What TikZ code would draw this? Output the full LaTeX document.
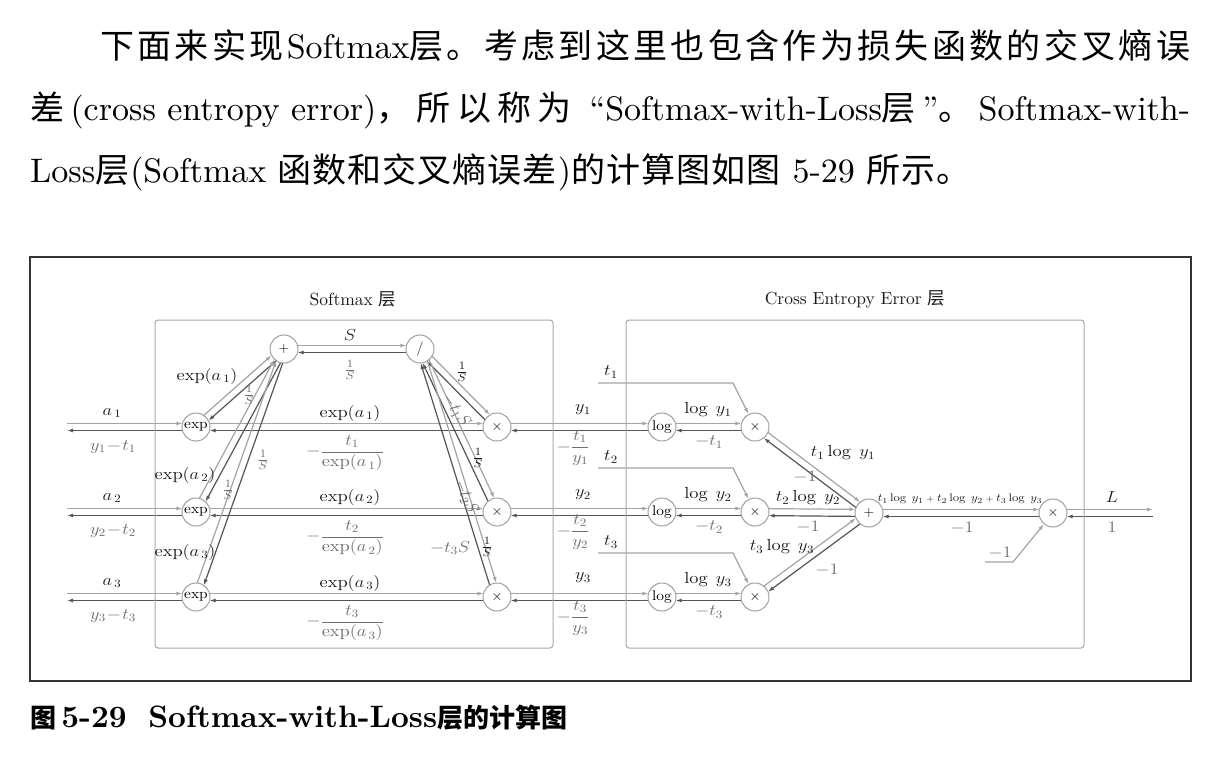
\RequirePackage{fix-cm}
\documentclass[tikz,border=0pt]{standalone}
\usepackage{amsmath}
\usepackage{graphicx}
\usepackage{fontspec}
\setmainfont{lmroman10-regular}[Extension=.otf,BoldFont=lmroman10-bold,ItalicFont=lmroman10-italic]
\newfontfamily\cjk{Noto Sans CJK SC}
\usetikzlibrary{arrows.meta,calc}
\pgfdeclarelayer{bg}
\pgfsetlayers{bg,main}
\definecolor{fwc}{HTML}{A4A4A4}
\definecolor{bwc}{HTML}{555555}
\definecolor{nodec}{HTML}{A0A0A0}
\definecolor{boxc}{HTML}{A8A8A8}
\definecolor{labb}{HTML}{1A1A1A}
\definecolor{labg}{HTML}{6E6E6E}
\definecolor{framec}{HTML}{333333}
\newcommand\cj[1]{{\cjk\cjloop#1\relax}}
\def\cjloop#1{\ifx#1\relax\else #1\hskip0pt plus 1fil\relax\expandafter\cjloop\fi}
\newcommand\edge[4]{\draw[#1,#4] ($(#2)!3.5pt!90:(#3)$) -- ($(#3)!3.5pt!-90:(#2)$);}
\begin{document}
\begin{tikzpicture}[x=1pt,y=-1pt,
  op/.style={circle,draw=nodec,fill=white,line width=1pt,minimum size=28pt,inner sep=0pt,font=\fontsize{14}{14}\selectfont},
  fwd/.style={draw=fwc,line width=1.2pt,-{Latex[length=6pt,width=4pt]}},
  bwd/.style={draw=bwc,line width=1.2pt,-{Latex[length=6pt,width=4pt]}},
  nn/.style={shorten <=13.6pt,shorten >=13.6pt},
  cn/.style={shorten >=13.6pt},
  nc/.style={shorten <=13.6pt},
  lb/.style={text=labb,inner sep=0pt,xscale=1.15,font=\fontsize{16}{19}\selectfont},
  lg/.style={text=labg,inner sep=0pt,xscale=1.15,font=\fontsize{16}{19}\selectfont},
  inp/.style={draw=fwc,line width=1.2pt,-{Latex[length=6pt,width=4pt]}},
  ttl/.style={inner sep=0pt,text=labb,font=\fontsize{17.5}{17.5}\selectfont},
  para/.style={anchor=base west,inner sep=0pt,font=\fontsize{34}{34}\selectfont}]
\useasboundingbox (0,0) rectangle (1226,758);
\begin{pgfonlayer}{bg}
\fill[white] (0,0) rectangle (1226,758);
\end{pgfonlayer}

% paragraph
\node[para] (p1) at (100,58.5)
  {\makebox[1090pt][s]{\cj{下面来实现}Softmax\cj{层。考虑到这里也包含作为损失函数的交叉熵误}\unskip}};
\node[para] (p2) at (30,120.5)
  {\makebox[1160pt][s]{\cj{差}(cross entropy error)\cj{，所以称为} ``Softmax-with-Loss\cj{层}''\cj{。}Softmax-with-}};
\node[para] (p3) at (30,182.5)
  {\makebox[940pt][s]{Loss\cj{层}(Softmax \cj{函数和交叉熵误差})\cj{的计算图如图} 5-29 \cj{所示。}\unskip}};

% caption
\node[anchor=base west,inner sep=0pt,font=\fontsize{31}{31}\selectfont\bfseries] (cap) at (30,727)
  {{\fontsize{26}{26}\selectfont\cjk 图}\,5-29\hspace{0.7em}Softmax-with-Loss{\fontsize{26}{26}\selectfont\cjk 层的计算图}};

% frames
\draw[framec,line width=1.3pt] (30,257) rectangle (1191,681);
\draw[boxc,line width=1pt,rounded corners=3pt] (155,320) rectangle (553,648);
\draw[boxc,line width=1pt,rounded corners=3pt] (626,320) rectangle (1084,648);
\node[ttl] (t1) at (353,299) {Softmax {\cjk 层}};
\node[ttl] (t2) at (855,299) {Cross Entropy Error {\cjk 层}};

% nodes
\node[op] (exp1) at (196,427) {\scalebox{1.1}[1]{exp}};
\node[op] (exp2) at (196,512) {\scalebox{1.1}[1]{exp}};
\node[op] (exp3) at (196,597) {\scalebox{1.1}[1]{exp}};
\node[op] (plus) at (284,349) {$+$};
\node[op] (div) at (420,349) {$/$};
\node[op] (tm1) at (497,427) {$\times$};
\node[op] (tm2) at (497,512) {$\times$};
\node[op] (tm3) at (497,597) {$\times$};
\node[op] (log1) at (662,427) {\scalebox{1.1}[1]{log}};
\node[op] (log2) at (662,512) {\scalebox{1.1}[1]{log}};
\node[op] (log3) at (662,597) {\scalebox{1.1}[1]{log}};
\node[op] (mul1) at (755,427) {$\times$};
\node[op] (mul2) at (755,512) {$\times$};
\node[op] (mul3) at (755,597) {$\times$};
\node[op] (plus2) at (869,513) {$+$};
\node[op] (mulL) at (1053,513) {$\times$};
\coordinate (in1) at (67,427);
\coordinate (in2) at (67,512);
\coordinate (in3) at (67,597);
\coordinate (out) at (1153,513);
\coordinate (ts1) at (598,383); \coordinate (tc1) at (733,383);
\coordinate (ts2) at (598,468); \coordinate (tc2) at (733,468);
\coordinate (ts3) at (598,553); \coordinate (tc3) at (733,553);
\coordinate (ms) at (985,562); \coordinate (mc) at (1013,562);

\begin{pgfonlayer}{bg}
\foreach \i in {1,2,3}{
  \edge{fwd}{in\i}{exp\i}{cn}
  \edge{bwd}{exp\i}{in\i}{nc}
  \edge{fwd}{exp\i}{plus}{nn}
  \edge{bwd}{plus}{exp\i}{nn}
  \edge{fwd}{div}{tm\i}{nn}
  \edge{bwd}{tm\i}{div}{nn}
  \edge{fwd}{exp\i}{tm\i}{nn}
  \edge{bwd}{tm\i}{exp\i}{nn}
  \edge{fwd}{tm\i}{log\i}{nn}
  \edge{bwd}{log\i}{tm\i}{nn}
  \edge{fwd}{log\i}{mul\i}{nn}
  \edge{bwd}{mul\i}{log\i}{nn}
  \edge{fwd}{mul\i}{plus2}{nn}
  \edge{bwd}{plus2}{mul\i}{nn}
  \draw[inp] (ts\i) -- (tc\i) -- (mul\i);
}
\edge{fwd}{plus}{div}{nn}
\edge{bwd}{div}{plus}{nn}
\edge{fwd}{plus2}{mulL}{nn}
\edge{bwd}{mulL}{plus2}{nn}
\edge{fwd}{mulL}{out}{nc}
\edge{bwd}{out}{mulL}{cn}
\draw[inp] (ms) -- (mc) -- (mulL);
\end{pgfonlayer}

% labels softmax
\node[lb] at (112,413) {$a_{\,1}$};
\node[lg] at (113,447) {$y_1\!-\!t_1$};
\node[lb] at (112,498) {$a_{\,2}$};
\node[lg] at (113,531) {$y_2\!-\!t_2$};
\node[lb] at (112,583) {$a_{\,3}$};
\node[lg] at (113,616) {$y_3\!-\!t_3$};
\node[lb] at (207,376) {$\exp(a_{\,1})$};
\node[lg] at (249,395) {$\frac{1}{S}$};
\node[lb] at (185,475) {$\exp(a_{\,2})$};
\node[lg] at (228,490) {$\frac{1}{S}$};
\node[lb] at (185,552) {$\exp(a_{\,3})$};
\node[lg] at (263,460) {$\frac{1}{S}$};
\node[lb] at (350,335) {$S$};
\node[lg] at (350,370) {$\frac{1}{S}$};
\node[lb] at (462,372) {$\frac{1}{S}$};
\node[lg,rotate=-58] at (456,410) {$-t_1S$};
\node[lb] at (478,458) {$\frac{1}{S}$};
\node[lg,rotate=-70] at (466,497) {$-t_2S$};
\node[lb] at (487,547) {$\frac{1}{S}$};
\node[lg] at (450,548) {$-t_3S$};
\node[lb] at (350,413) {$\exp(a_{\,1})$};
\node[lg] at (345,453) {$-\dfrac{t_1}{\exp(a_{\,1})}$};
\node[lb] at (350,497) {$\exp(a_{\,2})$};
\node[lg] at (345,538) {$-\dfrac{t_2}{\exp(a_{\,2})}$};
\node[lb] at (350,583) {$\exp(a_{\,3})$};
\node[lg] at (345,623) {$-\dfrac{t_3}{\exp(a_{\,3})}$};

% labels cross entropy
\node[lb] at (583,410) {$y_1$};
\node[lg] at (573,448) {$-\dfrac{t_1}{y_1}$};
\node[lb] at (583,495) {$y_2$};
\node[lg] at (573,532) {$-\dfrac{t_2}{y_2}$};
\node[lb] at (583,578) {$y_3$};
\node[lg] at (573,618) {$-\dfrac{t_3}{y_3}$};
\node[lb] at (611,372) {$t_1$};
\node[lb] at (611,457) {$t_2$};
\node[lb] at (611,542) {$t_3$};
\node[lb] at (708,410) {$\log\;y_1$};
\node[lg] at (709,442) {$-t_1$};
\node[lb] at (708,495) {$\log\;y_2$};
\node[lg] at (709,527) {$-t_2$};
\node[lb] at (708,580) {$\log\;y_3$};
\node[lg] at (709,612) {$-t_3$};
\node[lb] at (843,453) {$t_1\log\;y_1$};
\node[lg] at (805,477) {$-1$};
\node[lb] at (808,498) {$t_2\log\;y_2$};
\node[lg] at (808,527) {$-1$};
\node[lb] at (782,547) {$t_3\log\;y_3$};
\node[lg] at (827,570) {$-1$};
\node[lb,font=\fontsize{11}{13}\selectfont] at (960,499)
  {$t_1\log\;y_1\mathbin{\scriptstyle +}t_2\log\;y_2\mathbin{\scriptstyle +}t_3\log\;y_3$};
\node[lg] at (962,528) {$-1$};
\node[lb] at (1112,497) {$L$};
\node[lg] at (1112,527) {$1$};
\node[lg] at (1000,553) {$-1$};
\end{tikzpicture}
\end{document}
